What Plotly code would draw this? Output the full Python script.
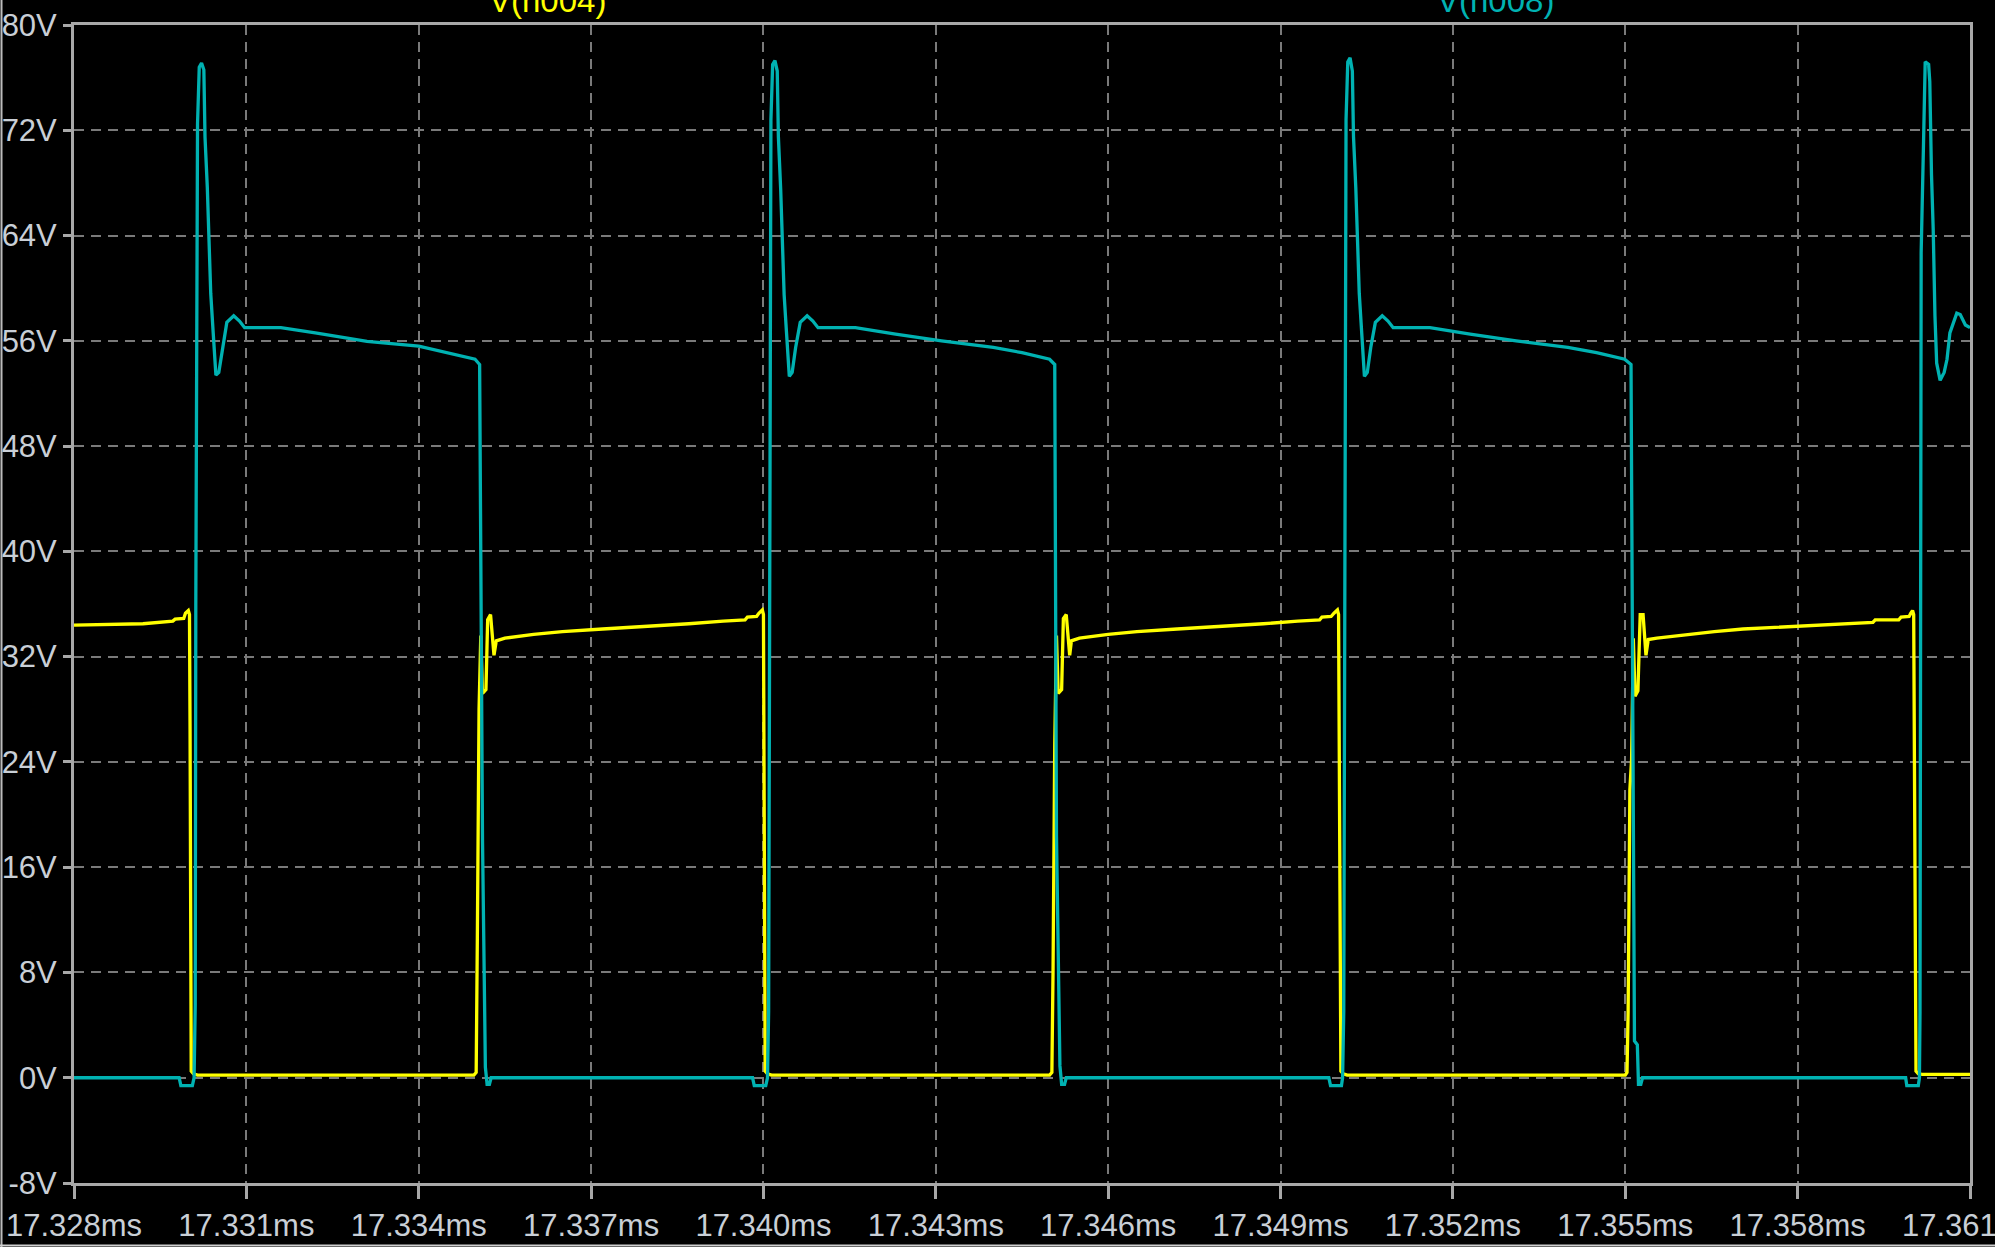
import plotly.graph_objects as go

# ---- time base: microseconds after 17.328 ms ----
X_TICK_US = [0, 3, 6, 9, 12, 15, 18, 21, 24, 27, 30, 33]
X_TICK_LABELS = ["17.328ms", "17.331ms", "17.334ms", "17.337ms", "17.340ms", "17.343ms",
                 "17.346ms", "17.349ms", "17.352ms", "17.355ms", "17.358ms", "17.361ms"]
Y_TICK_V = [-8, 0, 8, 16, 24, 32, 40, 48, 56, 64, 72, 80]
Y_TICK_LABELS = ["-8V", "0V", "8V", "16V", "24V", "32V", "40V", "48V", "56V", "64V", "72V", "80V"]

# V(n008) - cyan trace
N008_T = [0.00, 1.83, 1.86, 2.06, 2.09, 2.11, 2.12, 2.13, 2.15, 2.18, 2.22, 2.26, 2.28, 2.32, 2.38, 2.42,
          2.47, 2.52, 2.58, 2.66, 2.78, 2.88, 2.97, 3.60, 4.20, 5.10, 6.00, 6.50, 6.98, 7.06, 7.09, 7.11,
          7.16, 7.19, 7.23, 7.26,
          11.81, 11.84, 12.04, 12.07, 12.09, 12.10, 12.11, 12.13, 12.16, 12.20, 12.24, 12.26, 12.30, 12.36,
          12.40, 12.45, 12.50, 12.56, 12.64, 12.76, 12.86, 12.95, 13.60, 14.30, 15.10, 16.00, 16.50, 16.98,
          17.07, 17.10, 17.16, 17.19, 17.24, 17.27,
          21.84, 21.87, 22.06, 22.08, 22.10, 22.11, 22.12, 22.14, 22.17, 22.21, 22.25, 22.27, 22.31, 22.37,
          22.41, 22.46, 22.51, 22.57, 22.65, 22.77, 22.87, 22.96, 23.60, 24.30, 25.10, 26.00, 26.50, 26.99,
          27.10, 27.13, 27.16, 27.21, 27.23, 27.27, 27.30,
          31.88, 31.90, 32.10, 32.12, 32.13, 32.14, 32.15, 32.19, 32.22, 32.28, 32.30, 32.33, 32.36, 32.39,
          32.42, 32.48, 32.55, 32.60, 32.65, 32.77, 32.83, 32.92, 33.00]
N008_V = [0.0, 0.0, -0.6, -0.6, 0.0, 5.5, 36.0, 55.0, 72.5, 76.8, 77.1, 76.6, 71.5, 67.7, 59.6, 56.8,
          53.4, 53.6, 55.4, 57.4, 57.9, 57.5, 57.0, 57.0, 56.6, 55.95, 55.6, 55.1, 54.6, 54.2, 36.4, 18.1,
          0.8, -0.5, -0.5, 0.0,
          0.0, -0.6, -0.6, 0.0, 5.0, 29.0, 55.0, 72.8, 77.0, 77.3, 76.5, 71.5, 67.5, 59.5,
          56.7, 53.3, 53.6, 55.5, 57.4, 57.9, 57.5, 57.0, 57.0, 56.5, 56.0, 55.5, 55.1, 54.6,
          54.2, 18.4, 0.9, -0.5, -0.5, 0.0,
          0.0, -0.6, -0.6, 0.0, 5.0, 30.0, 55.0, 72.8, 77.2, 77.5, 76.5, 71.5, 67.6, 59.6,
          56.8, 53.3, 53.6, 55.5, 57.4, 57.9, 57.5, 57.0, 57.0, 56.5, 56.0, 55.5, 55.1, 54.6,
          54.2, 24.0, 2.8, 2.5, -0.5, -0.5, 0.0,
          0.0, -0.6, -0.6, 0.0, 5.0, 30.0, 62.7, 70.8, 77.2, 77.0, 75.7, 68.6, 64.4, 57.9,
          54.3, 53.0, 53.6, 54.6, 56.6, 58.1, 58.0, 57.2, 57.0]

# V(n004) - yellow trace
N004_T = [0.00, 1.20, 1.72, 1.76, 1.91, 1.94, 1.99, 2.01, 2.02, 2.03, 2.04, 2.08, 2.15,
          6.96, 7.00, 7.02, 7.05, 7.08, 7.11, 7.17, 7.20, 7.25, 7.31, 7.35, 7.50, 8.00, 8.50, 9.20,
          10.00, 10.70, 11.30, 11.68, 11.72, 11.88, 11.92, 11.98, 12.00, 12.01, 12.02, 12.03, 12.07, 12.14,
          16.98, 17.02, 17.04, 17.07, 17.10, 17.13, 17.19, 17.22, 17.27, 17.33, 17.36, 17.50, 18.00, 18.50,
          19.20, 20.00, 20.70, 21.30, 21.68, 21.72, 21.88, 21.93, 21.99, 22.01, 22.02, 22.04, 22.05, 22.09,
          22.16,
          27.00, 27.03, 27.05, 27.08, 27.11, 27.14, 27.17, 27.22, 27.26, 27.31, 27.36, 27.40, 27.55, 28.10,
          28.55, 29.05, 30.00, 30.70, 31.31, 31.35, 31.76, 31.80, 31.94, 31.97, 32.00, 32.02, 32.03, 32.05,
          32.06, 32.10, 32.17, 33.00]
N004_V = [34.4, 34.5, 34.7, 34.85, 34.9, 35.3, 35.5, 35.2, 26.5, 5.0, 0.5, 0.3, 0.2,
          0.2, 0.4, 10.5, 28.0, 33.6, 29.2, 29.5, 34.8, 35.2, 32.1, 33.2, 33.4, 33.7, 33.9, 34.1,
          34.3, 34.5, 34.7, 34.8, 35.0, 35.05, 35.3, 35.55, 35.2, 26.0, 5.0, 0.5, 0.3, 0.2,
          0.2, 0.4, 8.0, 25.4, 33.6, 29.2, 29.5, 34.9, 35.2, 32.1, 33.2, 33.4, 33.7, 33.9,
          34.1, 34.3, 34.5, 34.7, 34.8, 35.0, 35.05, 35.3, 35.55, 35.2, 26.0, 5.0, 0.5, 0.3,
          0.2,
          0.2, 0.4, 5.1, 21.9, 24.2, 33.4, 29.0, 29.4, 35.2, 35.2, 32.1, 33.3, 33.4, 33.7,
          33.9, 34.1, 34.3, 34.5, 34.6, 34.8, 34.8, 35.0, 35.05, 35.3, 35.5, 35.2, 26.0, 5.0,
          0.5, 0.3, 0.25, 0.25]

YELLOW = "#ffff00"
CYAN = "#00b2b2"
FRAME = "#a8a8a8"
GRID = "#7a7a7a"
TEXT = "#c9cfd6"
FONT = "Liberation Sans, Arial, sans-serif"

W, H = 1995, 1247
ML, MR, MT, MB = 74, 25, 25, 64
PW, PH = W - ML - MR, H - MT - MB

fig = go.Figure()
fig.add_trace(go.Scatter(x=N004_T, y=N004_V, mode="lines", name="V(n004)",
                         line=dict(color=YELLOW, width=3.3)))
fig.add_trace(go.Scatter(x=N008_T, y=N008_V, mode="lines", name="V(n008)",
                         line=dict(color=CYAN, width=3.3)))

axis_common = dict(showline=True, linecolor=FRAME, linewidth=3, mirror=True,
                   showgrid=True, gridcolor=GRID, gridwidth=2, griddash="10px,7px",
                   zeroline=False, ticks="outside", tickcolor=FRAME, tickwidth=3,
                   automargin=False, ticklabeloverflow="allow",
                   tickfont=dict(family=FONT, size=31, color=TEXT))

fig.update_xaxes(range=[0, 33], tickmode="array", tickvals=X_TICK_US, ticktext=X_TICK_LABELS,
                 ticklen=13, **axis_common)
fig.update_yaxes(range=[-8, 80], tickmode="array", tickvals=Y_TICK_V, ticktext=Y_TICK_LABELS,
                 ticklen=8, **axis_common)

fig.add_annotation(text="V(n004)", xref="paper", yref="paper", x=(547 - ML) / PW, y=1,
                   xanchor="center", yanchor="bottom", yshift=4, showarrow=False,
                   font=dict(family=FONT, size=33, color=YELLOW))
fig.add_annotation(text="V(n008)", xref="paper", yref="paper", x=(1495 - ML) / PW, y=1,
                   xanchor="center", yanchor="bottom", yshift=4, showarrow=False,
                   font=dict(family=FONT, size=33, color=CYAN))

# window border lines (left and bottom edges of the screenshot)
fig.add_shape(type="line", xref="paper", yref="paper",
              x0=(1.5 - ML) / PW, x1=(1.5 - ML) / PW, y0=-MB / PH, y1=1 + MT / PH,
              line=dict(color="#bdbdbd", width=2))
fig.add_shape(type="line", xref="paper", yref="paper",
              x0=-ML / PW, x1=1 + MR / PW, y0=-(MB - 1.5) / PH, y1=-(MB - 1.5) / PH,
              line=dict(color="#d0d0d0", width=2))

fig.update_layout(width=W, height=H, autosize=False,
                  margin=dict(l=ML, r=MR, t=MT, b=MB, pad=0),
                  paper_bgcolor="black", plot_bgcolor="black", showlegend=False)

fig.write_html("out.html", config={"displayModeBar": False},
               post_script="document.body.style.margin='0';document.body.style.background='black';")
